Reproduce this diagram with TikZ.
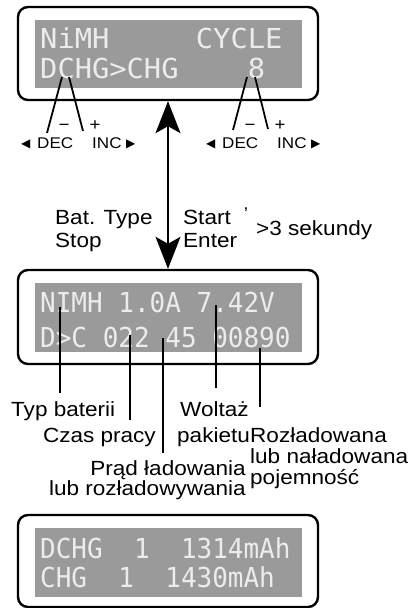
\documentclass[tikz,border=0pt]{standalone}
\usepackage{fontspec}
\setmainfont{Liberation Sans}[FakeStretch=1.1]
\newfontfamily\lcdA{DejaVu Sans Mono}[FakeStretch=1.045]
\newfontfamily\lcdB{DejaVu Sans Mono}[FakeStretch=0.945]
\newfontfamily\symf{DejaVu Sans}
\usetikzlibrary{arrows.meta}
\definecolor{lcdgray}{RGB}{154,154,154}
\definecolor{lcdtxt}{RGB}{236,236,236}
\tikzset{
  frame/.style={draw=black, line width=2.4pt, rounded corners=10pt, minimum width=300pt, inner sep=0pt},
  screen/.style={fill=lcdgray, minimum width=267pt, minimum height=69pt, inner sep=0pt},
  lcdbig/.style={text=lcdtxt, font=\lcdA\fontsize{27.5}{27.5}\selectfont, anchor=base west, inner sep=0pt},
  lcdsmall/.style={text=lcdtxt, font=\lcdB\fontsize{27.5}{27.5}\selectfont, anchor=base west, inner sep=0pt},
  lbl/.style={font=\fontsize{20.5}{21}\selectfont, inner sep=0pt},
  mid/.style={font=\fontsize{20.5}{21}\selectfont, inner sep=0pt, anchor=base west},
  btn/.style={font=\fontsize{15.5}{16}\selectfont, inner sep=0pt, anchor=base west},
  tri/.style={font=\symf\fontsize{12}{12}\selectfont, inner sep=0pt, anchor=base west},
  sgn/.style={font=\fontsize{17}{17}\selectfont, inner sep=0pt},
  ptr/.style={line width=1.8pt},
  arr/.style={line width=1.6pt, {Stealth[length=32pt,width=25pt,inset=7pt]}-{Stealth[length=32pt,width=25pt,inset=7pt]}}
}
\begin{document}
\begin{tikzpicture}[x=1pt,y=-1pt]
\useasboundingbox (0,0) rectangle (418,608);
% frames
\node[frame, minimum height=93pt] (box1) at (168,53.5) {};
\node[frame, minimum height=94pt] (box2) at (168,317) {};
\node[frame, minimum height=92pt] (box3) at (168,561) {};
% screens
\node[screen, minimum height=68pt] (s1) at (168.5,54) {};
\node[screen] (s2) at (168.5,317.5) {};
\node[screen] (s3) at (168.5,562.5) {};
% LCD text
\node[lcdbig] (t1) at (40,48) {NiMH~~~~~CYCLE};
\node[lcdbig] (t2) at (40,78) {DCHG>CHG~~~~8};
\node[lcdsmall] (m1) at (40,312) {NIMH~1.0A~7.42V};
\node[lcdsmall] (m2) at (40,347) {D>C~022~45~00890};
\node[lcdsmall] (b1) at (40,558) {DCHG~~1~~1314mAh};
\node[lcdsmall] (b2) at (40,587) {CHG~~1~~1430mAh};
% buttons, top
\node[tri] (l1) at (21,147) {◀};
\node[btn] (dec1) at (37,148) {DEC};
\node[btn] (inc1) at (92,148) {INC};
\node[tri] (r1) at (126,147) {▶};
\node[tri] (l2) at (206,147) {◀};
\node[btn] (dec2) at (222,148) {DEC};
\node[btn] (inc2) at (277,148) {INC};
\node[tri] (r2) at (311,147) {▶};
\node[sgn] (mi1) at (64,127) {−};
\node[sgn] (pl1) at (95,126) {+};
\node[sgn] (mi2) at (250,127) {−};
\node[sgn] (pl2) at (280,126) {+};
\coordinate (a1) at (62,77);  \coordinate (a1e) at (47,133);
\coordinate (a2) at (69,77);  \coordinate (a2e) at (83,131);
\coordinate (a3) at (247,77); \coordinate (a3e) at (233,130);
\coordinate (a4) at (255,77); \coordinate (a4e) at (268,129);
\draw[ptr] (a1) -- (a1e);
\draw[ptr] (a2) -- (a2e);
\draw[ptr] (a3) -- (a3e);
\draw[ptr] (a4) -- (a4e);
% main arrow
\draw[arr] (box1.south) -- (box2.north);
% key labels
\node[mid] (bat) at (55,224) {Bat. Type};
\node[mid] (stop) at (55,247) {Stop};
\node[mid] (start) at (183,224) {Start};
\node[mid] (enter) at (183,247) {Enter};
\node[sgn] (tick) at (246,214) {’};
\node[mid] (sek) at (256,235) {>3 sekundy};
% field labels
\node[lbl, anchor=base west] (typ) at (11,416) {Typ baterii};
\node[lbl, anchor=base east] (czas) at (156,442) {Czas pracy};
\node[lbl, anchor=base west] (wolt) at (180,416) {Woltaż};
\node[lbl, anchor=base west] (pak) at (177,442) {pakietu};
\node[lbl, anchor=base west] (roz1) at (250,442) {Rozładowana};
\node[lbl, anchor=base west] (roz2) at (250,463) {lub naładowana};
\node[lbl, anchor=base west] (roz3) at (250,484) {pojemność};
\node[lbl, anchor=base east] (prad1) at (246,475) {Prąd ładowania};
\node[lbl, anchor=base east] (prad2) at (246,495) {lub rozładowywania};
\coordinate (c1) at (60,307);  \coordinate (c1e) at (60,393);
\coordinate (c2) at (130,335); \coordinate (c2e) at (130,420);
\coordinate (c3) at (163,338); \coordinate (c3e) at (163,453);
\coordinate (c4) at (216,305); \coordinate (c4e) at (216,388);
\coordinate (c5) at (260,348); \coordinate (c5e) at (260,407);
\draw[ptr] (c1) -- (c1e);
\draw[ptr] (c2) -- (c2e);
\draw[ptr] (c3) -- (c3e);
\draw[ptr] (c4) -- (c4e);
\draw[ptr] (c5) -- (c5e);
\end{tikzpicture}
\end{document}
